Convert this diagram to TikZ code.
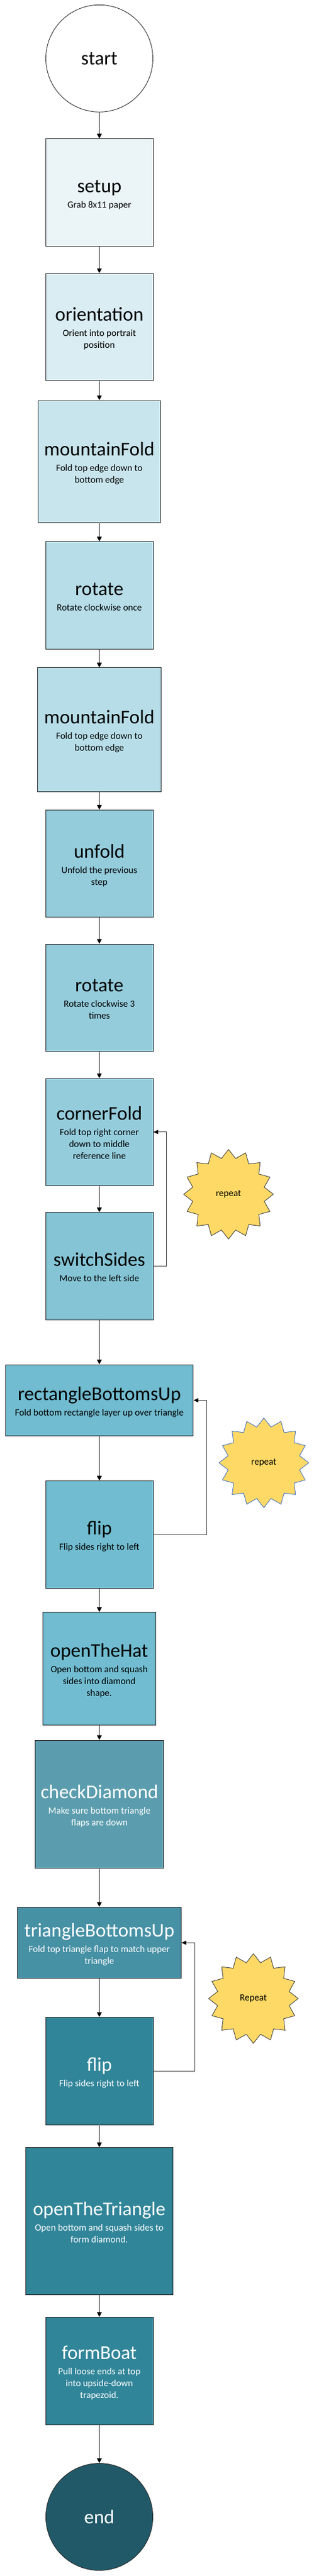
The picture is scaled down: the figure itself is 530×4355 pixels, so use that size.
\documentclass[tikz,border=0pt]{standalone}
\usepackage{fontspec}
\setmainfont{Carlito}
\usetikzlibrary{arrows.meta,shapes.geometric}
\definecolor{fA}{HTML}{EBF5F8}
\definecolor{fB}{HTML}{DAEDF3}
\definecolor{fC}{HTML}{C8E4EC}
\definecolor{fD}{HTML}{B7DEE8}
\definecolor{fE}{HTML}{94CCDC}
\definecolor{fF}{HTML}{84C4D5}
\definecolor{fG}{HTML}{71BCD0}
\definecolor{fH}{HTML}{5B9DAE}
\definecolor{fI}{HTML}{4791A5}
\definecolor{fJ}{HTML}{318599}
\definecolor{fK}{HTML}{215968}
\definecolor{starfill}{HTML}{FFD966}
\definecolor{starblue}{HTML}{4472C4}
\definecolor{edgec}{HTML}{262626}
\definecolor{flowc}{HTML}{7F7F7F}
\definecolor{loopc}{HTML}{404040}
\begin{document}
\begin{tikzpicture}[x=1pt,y=-1pt,
  box/.style={rectangle, draw=edgec, line width=0.9pt, inner sep=0pt},
  ttl/.style={anchor=base, inner sep=0pt, font=\fontsize{33}{36}\selectfont},
  sub/.style={anchor=base, inner sep=0pt, align=center, font=\fontsize{16}{20}\selectfont},
  flow/.style={draw=flowc, line width=1.3pt, -{Triangle[width=8pt,length=8pt,color=black]}},
  loopline/.style={draw=loopc, line width=0.9pt, -{Triangle[width=7pt,length=8pt,color=black]}},
  burst/.style={star, star points=16, star point ratio=1.23, minimum size=151.5pt, inner sep=0pt, fill=starfill, line width=0.9pt, font=\fontsize{16}{20}\selectfont},
  term/.style={circle, draw=edgec, line width=0.9pt, minimum size=181pt, inner sep=0pt, font=\fontsize{33}{36}\selectfont}]
\useasboundingbox (0,0) rectangle (530,4355);

% start
\node[term, fill=white] (start) at (168,98.8) {start};

% setup
\node[box, fill=fA, minimum width=182pt, minimum height=182pt] (setup) at (168,325.6) {};
\node[ttl] (setupT) at (168,325.6) {setup};
\node[sub] (setupS) at (168,351.6) {Grab 8x11 paper};

% orientation
\node[box, fill=fB, minimum width=182pt, minimum height=181pt] (orient) at (168,552.7) {};
\node[ttl] (orientT) at (168,542.7) {orientation};
\node[sub] (orientS) at (168,588.7) {Orient into portrait\\position};

% mountainFold 1
\node[box, fill=fC, minimum width=207pt, minimum height=206pt] (mf1) at (168,780) {};
\node[ttl] (mf1T) at (168,770) {mountainFold};
\node[sub] (mf1S) at (168,816) {Fold top edge down to\\bottom edge};

% rotate 1
\node[box, fill=fD, minimum width=182pt, minimum height=181.5pt] (rot1) at (168,1006.5) {};
\node[ttl] (rot1T) at (168,1006.5) {rotate};
\node[sub] (rot1S) at (168,1032.5) {Rotate clockwise once};

% mountainFold 2
\node[box, fill=fD, minimum width=209.6pt, minimum height=209.2pt] (mf2) at (168,1233.5) {};
\node[ttl] (mf2T) at (168,1223.5) {mountainFold};
\node[sub] (mf2S) at (168,1269.5) {Fold top edge down to\\bottom edge};

% unfold
\node[box, fill=fE, minimum width=182pt, minimum height=181.6pt] (unfold) at (168,1460) {};
\node[ttl] (unfoldT) at (168,1450) {unfold};
\node[sub] (unfoldS) at (168,1496) {Unfold the previous\\step};

% rotate 2
\node[box, fill=fE, minimum width=182pt, minimum height=181.6pt] (rot2) at (168,1686.8) {};
\node[ttl] (rot2T) at (168,1676.8) {rotate};
\node[sub] (rot2S) at (168,1722.8) {Rotate clockwise 3\\times};

% cornerFold
\node[box, fill=fE, minimum width=182pt, minimum height=181.1pt] (corner) at (168,1913.75) {};
\node[ttl] (cornerT) at (168,1893.75) {cornerFold};
\node[sub] (cornerS) at (168,1959.75) {Fold top right corner\\down to middle\\reference line};

% switchSides
\node[box, fill=fF, minimum width=182pt, minimum height=181.2pt] (switch) at (168,2140.5) {};
\node[ttl] (switchT) at (168,2140.5) {switchSides};
\node[sub] (switchS) at (168,2166.5) {Move to the left side};

% rectangleBottomsUp
\node[box, fill=fG, minimum width=317.8pt, minimum height=120.6pt] (rectbu) at (168,2367.3) {};
\node[ttl] (rectbuT) at (168,2367.3) {rectangleBottomsUp};
\node[sub] (rectbuS) at (168,2393.3) {Fold bottom rectangle layer up over triangle};

% flip 1
\node[box, fill=fG, minimum width=182pt, minimum height=181.5pt] (flipA) at (168,2594.3) {};
\node[ttl] (flipAT) at (168,2594.3) {flip};
\node[sub] (flipAS) at (168,2620.3) {Flip sides right to left};

% openTheHat
\node[box, fill=fG, minimum width=191pt, minimum height=190.7pt] (hat) at (167.85,2821) {};
\node[ttl] (hatT) at (167.85,2801) {openTheHat};
\node[sub] (hatS) at (167.85,2867) {Open bottom and squash\\sides into diamond\\shape.};

% checkDiamond
\node[box, fill=fH, minimum width=216.7pt, minimum height=216pt] (check) at (168.15,3050) {};
\node[ttl, text=white] (checkT) at (168.15,3040) {checkDiamond};
\node[sub, text=white] (checkS) at (168.15,3086) {Make sure bottom triangle\\flaps are down};

% triangleBottomsUp
\node[box, fill=fI, minimum width=277.2pt, minimum height=120.5pt] (tribu) at (168,3284.3) {};
\node[ttl, text=white] (tribuT) at (168,3274.3) {triangleBottomsUp};
\node[sub, text=white] (tribuS) at (168,3320.3) {Fold top triangle flap to match upper\\triangle};

% flip 2
\node[box, fill=fJ, minimum width=182pt, minimum height=181.6pt] (flipB) at (168,3501.2) {};
\node[ttl, text=white] (flipBT) at (168,3501.2) {flip};
\node[sub, text=white] (flipBS) at (168,3527.2) {Flip sides right to left};

% openTheTriangle
\node[box, fill=fJ, minimum width=249pt, minimum height=248.8pt] (otri) at (167.85,3755) {};
\node[ttl, text=white] (otriT) at (167.85,3745) {openTheTriangle};
\node[sub, text=white] (otriS) at (167.85,3791) {Open bottom and squash sides to\\form diamond.};

% formBoat
\node[box, fill=fJ, minimum width=182pt, minimum height=181.7pt] (boat) at (168,4008.2) {};
\node[ttl, text=white] (boatT) at (168,3988.2) {formBoat};
\node[sub, text=white] (boatS) at (168,4054.2) {Pull loose ends at top\\into upside-down\\trapezoid.};

% end
\node[term, fill=fK, text=white] (end) at (168,4255) {end};

% starbursts
\node[burst, draw=loopc] (rep1) at (386.4,2019) {repeat};
\node[burst, draw=starblue] (rep2) at (446.2,2473) {repeat};
\node[burst, draw=loopc] (rep3) at (428.5,3378.7) {Repeat};

% main flow
\draw[flow] (start) -- (setup);
\draw[flow] (setup) -- (orient);
\draw[flow] (orient) -- (mf1);
\draw[flow] (mf1) -- (rot1);
\draw[flow] (rot1) -- (mf2);
\draw[flow] (mf2) -- (unfold);
\draw[flow] (unfold) -- (rot2);
\draw[flow] (rot2) -- (corner);
\draw[flow] (corner) -- (switch);
\draw[flow] (switch) -- (rectbu);
\draw[flow] (rectbu) -- (flipA);
\draw[flow] (flipA.south) -- (hat.north -| flipA.south);
\draw[flow] (hat.south -| flipA.south) -- (check.north -| flipA.south);
\draw[flow] (check.south -| flipA.south) -- (tribu.north);
\draw[flow] (tribu) -- (flipB);
\draw[flow] (flipB.south) -- (otri.north -| flipB.south);
\draw[flow] (otri.south -| flipB.south) -- (boat.north);
\draw[flow] (boat) -- (end);

% repeat loops
\draw[loopline] (switch.east) -- ++(22,0) |- (corner.east);
\draw[loopline] (flipA.east) -- ++(90.2,0) |- (rectbu.east);
\draw[loopline] (flipB.east) -- ++(70.3,0) |- (tribu.east);
\end{tikzpicture}
\end{document}
